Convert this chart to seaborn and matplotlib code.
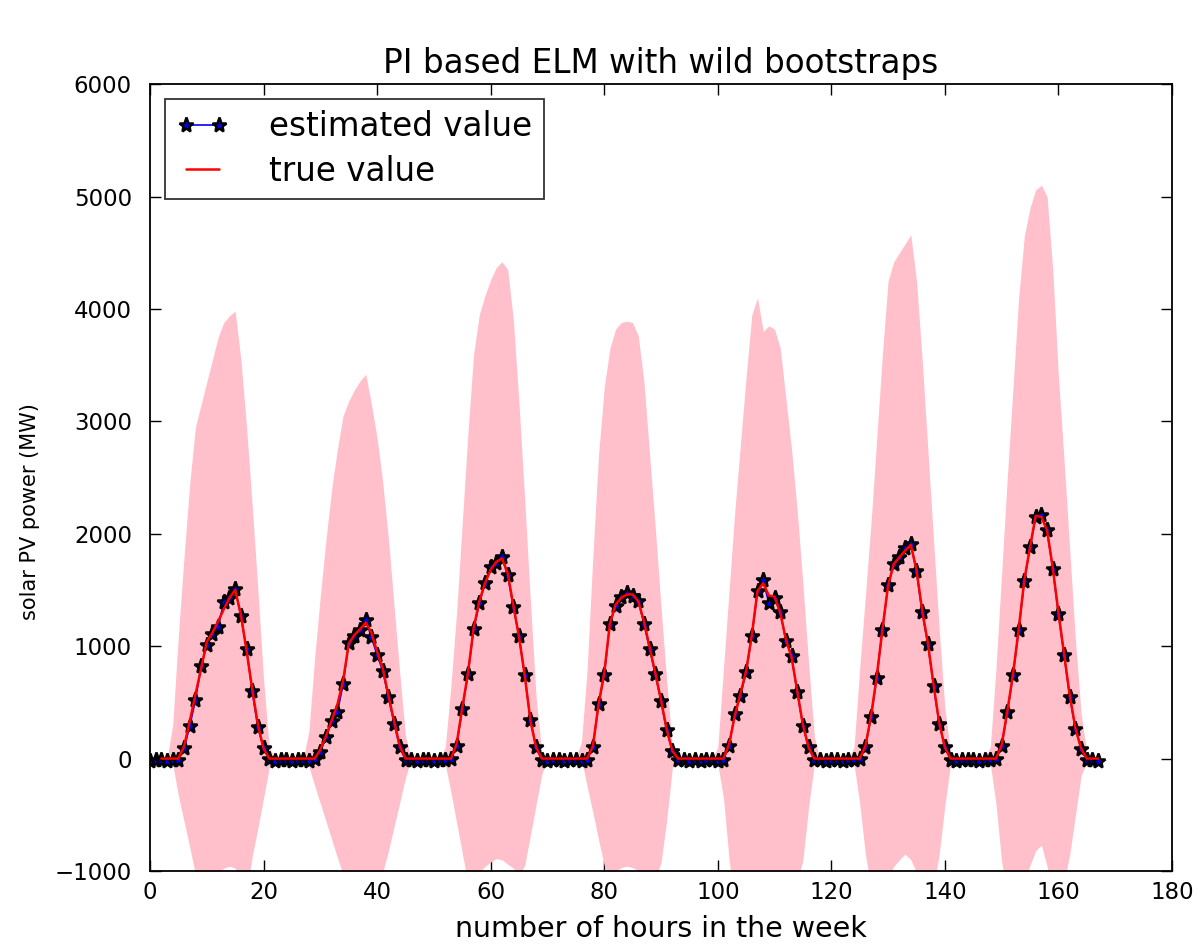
import numpy as np
import matplotlib
matplotlib.use("Agg")
import matplotlib.pyplot as plt
import seaborn as sns

# Hour index over one week
hours = np.arange(168)

# Measured solar PV output (MW); first two hours not recorded
true_power = [
    np.nan, np.nan, 0, 0, 0, 0, 110, 330, 570, 800, 1040, 1120, 1220, 1330, 1430, 1500, 1280, 960, 620, 300, 90, 0, 0, 0,
    0, 0, 0, 0, 0, 0, 80, 200, 340, 480, 690, 1020, 1100, 1150, 1210, 1120, 950, 800, 560, 330, 110, 0, 0, 0,
    0, 0, 0, 0, 0, 0, 130, 450, 760, 1160, 1400, 1560, 1680, 1750, 1780, 1650, 1360, 1080, 740, 340, 100, 0, 0, 0,
    0, 0, 0, 0, 0, 0, 110, 480, 760, 1200, 1370, 1430, 1460, 1460, 1400, 1220, 990, 760, 520, 260, 70, 0, 0, 0,
    0, 0, 0, 0, 0, 0, 130, 380, 580, 780, 1100, 1490, 1560, 1450, 1440, 1300, 1060, 900, 600, 300, 100, 0, 0, 0,
    0, 0, 0, 0, 0, 0, 110, 380, 730, 1150, 1540, 1730, 1790, 1850, 1900, 1680, 1320, 1030, 660, 320, 100, 0, 0, 0,
    0, 0, 0, 0, 0, 0, 120, 420, 750, 1150, 1590, 1880, 2160, 2150, 2030, 1700, 1300, 930, 560, 270, 90, 0, 0, 0,
]

# ELM point forecasts (MW)
est_power = [
    -20, -15, -10, -20, -15, -10, 90, 290, 520, 820, 1010, 1110, 1170, 1390, 1430, 1510, 1270, 975, 600, 280, 90, -5, -20, -15,
    -15, -20, -10, -15, -20, -5, 60, 190, 330, 410, 660, 1030, 1090, 1140, 1230, 1080, 920, 780, 545, 310, 100, -10, -15, -20,
    -15, -10, -20, -15, -10, -5, 115, 440, 750, 1150, 1380, 1560, 1700, 1740, 1790, 1630, 1350, 1090, 740, 340, 100, -10, -20, -15,
    -10, -20, -15, -10, -20, -10, 100, 485, 740, 1200, 1360, 1440, 1470, 1450, 1405, 1200, 975, 750, 515, 250, 70, -10, -15, -20,
    -15, -20, -10, -15, -20, -10, 115, 400, 560, 770, 1090, 1490, 1590, 1380, 1430, 1300, 1050, 910, 590, 290, 100, -10, -15, -20,
    -10, -15, -20, -10, -15, -5, 100, 370, 720, 1140, 1540, 1730, 1790, 1870, 1910, 1670, 1300, 1020, 650, 310, 100, -10, -20, -15,
    -15, -10, -20, -15, -10, -5, 110, 410, 740, 1140, 1580, 1880, 2150, 2170, 2030, 1690, 1290, 920, 550, 265, 86, -10, -15, -20,
]

# Prediction interval from wild bootstraps: upper bound (MW)
pi_upper = [
    0, 0, 0, 0, 300, 1100, 1800, 2450, 2950, 3150, 3350, 3550, 3750, 3880, 3940, 3980, 3550, 2950, 2250, 1500, 700, 100, 0, 0,
    0, 0, 0, 0, 250, 900, 1450, 1950, 2400, 2750, 3050, 3180, 3280, 3360, 3420, 3150, 2850, 2450, 1950, 1350, 750, 200, 0, 0,
    0, 0, 0, 0, 100, 650, 1300, 2100, 2900, 3600, 3950, 4120, 4260, 4370, 4420, 4350, 3900, 3150, 2300, 1400, 550, 50, 0, 0,
    0, 0, 0, 0, 150, 800, 1800, 2700, 3300, 3650, 3820, 3880, 3890, 3880, 3760, 3350, 2700, 2050, 1350, 700, 100, 0, 0, 0,
    0, 0, 0, 0, 100, 800, 1500, 2200, 2800, 3400, 3950, 4100, 3800, 3850, 3820, 3650, 3200, 2750, 2200, 1550, 850, 200, 0, 0,
    0, 0, 0, 0, 100, 800, 1450, 2100, 2850, 3600, 4250, 4420, 4500, 4580, 4660, 4250, 3550, 2750, 1950, 1150, 450, 50, 0, 0,
    0, 0, 0, 0, 100, 800, 1650, 2500, 3300, 4100, 4650, 4900, 5060, 5100, 5000, 4350, 3400, 2650, 1850, 1050, 400, 50, 0, 0,
]

# Prediction interval from wild bootstraps: lower bound (MW)
pi_lower = [
    0, 0, 0, 0, -50, -330, -560, -790, -1030, -1250, -1300, -1200, -1010, -975, -957, -975, -1060, -1200, -870, -620, -350, -80, 0, 0,
    0, 0, 0, 0, -75, -240, -400, -560, -720, -880, -1030, -1200, -1300, -1300, -1200, -1250, -1150, -1010, -820, -600, -390, -170, 0, 0,
    0, 0, 0, 0, -50, -300, -570, -840, -1110, -1200, -1010, -960, -920, -890, -900, -940, -975, -1040, -950, -680, -410, -140, 0, 0,
    0, 0, 0, 0, -10, -250, -480, -720, -950, -1060, -1000, -970, -957, -970, -995, -1050, -1100, -1080, -925, -550, -80, 0, 0, 0,
    0, 0, 0, 0, -50, -350, -900, -1300, -1400, -1500, -1500, -1450, -1400, -1400, -1350, -1300, -1250, -1200, -1100, -900, -430, -50, 0, 0,
    0, 0, 0, 0, -50, -400, -850, -1150, -1250, -1200, -1050, -960, -900, -850, -900, -1010, -1150, -1150, -1150, -850, -420, -50, 0, 0,
    0, 0, 0, 0, -50, -400, -920, -1200, -1300, -1250, -1100, -950, -820, -770, -960, -1150, -1250, -1100, -850, -500, -150, -30, 0, 0,
]

x_ticks = [0, 20, 40, 60, 80, 100, 120, 140, 160, 180]
y_ticks = [-1000, 0, 1000, 2000, 3000, 4000, 5000, 6000]

sns.set_style("white", {
    "xtick.direction": "in", "ytick.direction": "in",
    "xtick.top": True, "ytick.right": True,
    "xtick.bottom": True, "ytick.left": True,
    "axes.edgecolor": "black",
    "text.color": "black", "axes.labelcolor": "black",
    "xtick.color": "black", "ytick.color": "black",
})
plt.rcParams["font.family"] = ["DejaVu Sans"]

fig = plt.figure(figsize=(12.03, 9.46), dpi=100)
ax = fig.add_axes([0.1247, 0.0793, 0.8495, 0.8318])

ax.fill_between(hours, pi_lower, pi_upper, color="pink", linewidth=0,
                antialiased=False, zorder=1)

sns.lineplot(x=hours, y=est_power, ax=ax, color="blue", linewidth=1.2,
             marker="*", markersize=11, markerfacecolor="blue",
             markeredgecolor="black", markeredgewidth=1.8,
             label="estimated value", zorder=2)
sns.lineplot(x=hours, y=true_power, ax=ax, color="red", linewidth=1.8,
             label="true value", zorder=3)

ax.set_xlim(0, 180)
ax.set_ylim(-1000, 6000)
ax.set_xticks(x_ticks)
ax.set_yticks(y_ticks)
ax.tick_params(axis="both", which="both", direction="in", length=8, width=1,
               labelsize=16.5, top=True, right=True, colors="black")
ax.tick_params(axis="x", pad=7)
ax.tick_params(axis="y", pad=13)
for s in ax.spines.values():
    s.set_linewidth(1.3)
    s.set_color("black")

ax.set_title("PI based ELM with wild bootstraps", fontsize=23.5, pad=8,
             color="black")
ax.set_xlabel("number of hours in the week", fontsize=20.5, labelpad=8,
              color="black")
ax.set_ylabel("solar PV power (MW)", fontsize=15, color="black")
ax.yaxis.set_label_coords(-0.108, 0.457)

leg = ax.legend(loc="upper left", numpoints=2, fontsize=23.5, frameon=True,
                fancybox=False, edgecolor="black", handlelength=1.6,
                handletextpad=1.25, borderaxespad=0.45, borderpad=0.35,
                labelspacing=0.35)
leg.get_frame().set_linewidth(1.3)
for t in leg.get_texts():
    t.set_color("black")

fig.savefig("out.png", dpi=100)
